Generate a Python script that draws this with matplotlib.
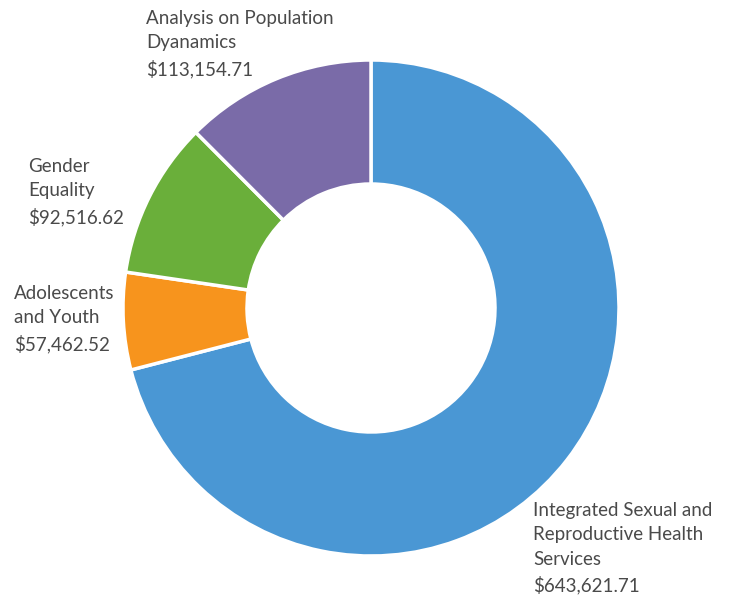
import matplotlib.pyplot as plt

# budget by programme area
labels = ['Integrated Sexual and\nReproductive Health\nServices',
          'Adolescents\nand Youth',
          'Gender\nEquality',
          'Analysis on Population\nDyanamics']
values = [643621.71, 57462.52, 92516.62, 113154.71]
colors = ['#4A97D4', '#F7941D', '#6AAF3A', '#7A6BA8']
# label anchor (left/top) in pixels of the 732x597 picture
label_pos = [(533, 502), (14, 285), (28, 158), (146, 10)]

fig = plt.figure(figsize=(7.32, 5.97), dpi=100)
ax = fig.add_axes([0, 0, 1, 1])

ax.pie(values, colors=colors, startangle=90, counterclock=False,
       center=(371, 597 - 308), radius=248,
       wedgeprops=dict(width=124, edgecolor='white', linewidth=2.5))

# pie() resets the limits, so set them afterwards
ax.set_xlim(0, 732)
ax.set_ylim(0, 597)
ax.set_aspect('equal')
ax.axis('off')

for lab, val, (x, y) in zip(labels, values, label_pos):
    txt = lab + '\n${:,.2f}'.format(val)
    ax.text(x, 597 - y, txt, ha='left', va='top', fontsize=13.5,
            family='Lato', color='#4a4a4a', linespacing=1.52)

fig.savefig('out.png', dpi=100)
